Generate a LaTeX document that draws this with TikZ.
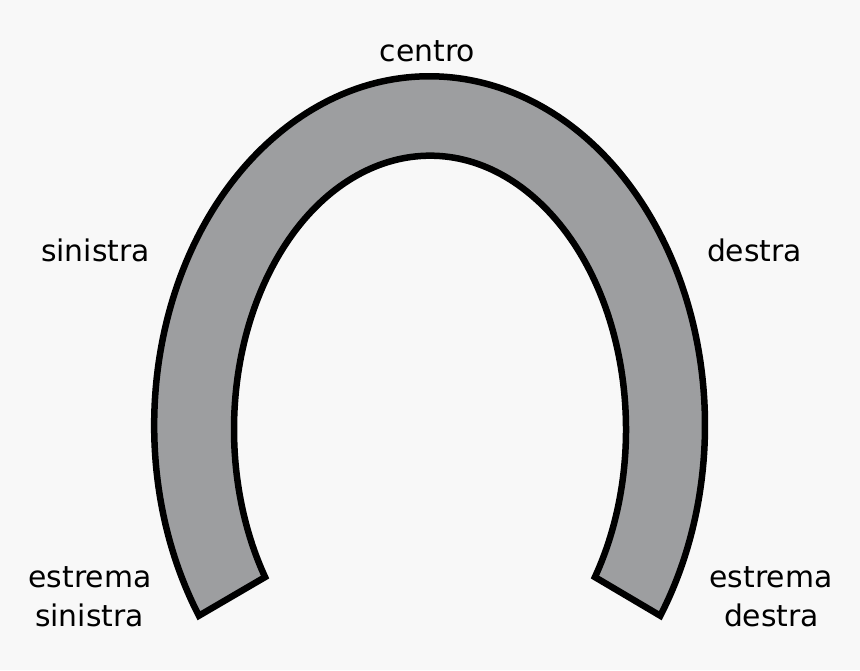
\documentclass[tikz,border=0pt]{standalone}
\usepackage{fontspec}
\setmainfont{DejaVu Sans}
\usetikzlibrary{calc}
\definecolor{bgcol}{RGB}{248,248,248}
\definecolor{shoe}{RGB}{157,158,160}
\begin{document}
\begin{tikzpicture}[x=1pt,y=1pt,
  lbl/.style={anchor=base,inner sep=0pt,font=\fontsize{29.8}{36}\selectfont}]
\fill[bgcol] (0,0) rectangle (860,670);
\useasboundingbox (0,0) rectangle (860,670);
\coordinate (co) at (429.6,244.8);
\coordinate (ci) at (430,240.7);
\draw[line width=6.5pt,fill=shoe,line join=miter]
  ($(co)+(213.1:275.4 and 348.9)$) arc[start angle=213.1,end angle=-33.1,x radius=275.4,y radius=348.9]
  -- ($(ci)+(-32.7:196 and 273.6)$) arc[start angle=-32.7,end angle=212.7,x radius=196,y radius=273.6]
  -- cycle;
\node[lbl] (centro) at (427.5,608) {centro};
\node[lbl] (sin) at (95.5,408) {sinistra};
\node[lbl] (des) at (754.5,408) {destra};
\node[lbl] (es1) at (90,83) {estrema};
\node[lbl] (es2) at (89.5,44) {sinistra};
\node[lbl] (ed1) at (771,83) {estrema};
\node[lbl] (ed2) at (771.5,44) {destra};
\end{tikzpicture}
\end{document}
